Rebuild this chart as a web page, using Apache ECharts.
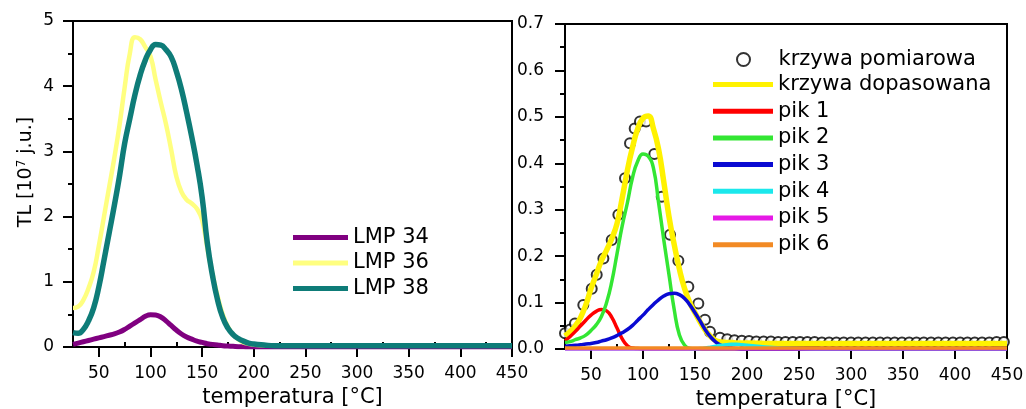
<!DOCTYPE html>
<html><head><meta charset="utf-8">
<script src="https://cdn.jsdelivr.net/npm/echarts@6/dist/echarts.min.js"></script>
<style>html,body{margin:0;padding:0;background:#fff}#c{width:1026px;height:409px}</style>
</head><body><div id="c"></div><script>
// ---- left panel data ----
const tempLeft = [25,30,35,40,45,50,55,60,65,70,75,80,85,90,95,100,105,110,115,120,125,130,135,140,145,150,155,160,165,170,175,180,185,190,195,200,210,220,250,300,350,400,450];
const lmp34 = [0.04,0.06,0.08,0.10,0.12,0.14,0.16,0.18,0.20,0.23,0.27,0.32,0.37,0.42,0.47,0.495,0.49,0.46,0.40,0.33,0.26,0.20,0.155,0.12,0.09,0.07,0.05,0.04,0.03,0.02,0.015,0.01,0.005,0.003,0,0,0,0,0,0,0,0,0];
const lmp36 = [0.60,0.62,0.72,0.90,1.15,1.55,2.00,2.45,2.90,3.40,3.98,4.50,4.75,4.72,4.60,4.46,4.10,3.75,3.42,3.03,2.62,2.38,2.26,2.20,2.12,1.95,1.52,1.12,0.78,0.50,0.31,0.19,0.12,0.07,0.05,0.035,0.025,0.02,0.02,0.02,0.02,0.02,0.02];
const lmp38 = [0.22,0.21,0.27,0.40,0.60,0.92,1.33,1.75,2.17,2.62,3.12,3.50,3.87,4.17,4.40,4.56,4.64,4.63,4.56,4.45,4.23,3.95,3.60,3.22,2.80,2.30,1.60,1.10,0.72,0.45,0.29,0.19,0.13,0.09,0.06,0.045,0.03,0.02,0.02,0.02,0.02,0.02,0.02];

// ---- right panel data ----
const tempRight = [25,30,35,40,45,50,55,60,65,70,75,80,85,90,95,100,105,110,115,120,125,130,135,140,145,150,155,160,165,170,175,180,185,190,195,200,225,250,275,300,325,350,375,400,425,450];
const fitCurve = [0.028,0.038,0.05,0.068,0.095,0.13,0.16,0.19,0.213,0.238,0.27,0.325,0.385,0.435,0.475,0.497,0.502,0.475,0.43,0.36,0.285,0.225,0.172,0.13,0.10,0.078,0.058,0.04,0.027,0.018,0.015,0.014,0.014,0.013,0.013,0.013,0.012,0.012,0.012,0.012,0.012,0.012,0.012,0.012,0.012,0.012];
const pik1 = [0.018,0.027,0.038,0.05,0.062,0.073,0.081,0.085,0.082,0.068,0.045,0.022,0.007,0.002,0.001,0,0,0,0,0,0,0,0,0,0,0,0,0,0,0,0,0,0,0,0,0,0,0,0,0,0,0,0,0,0,0];
const pik2 = [0.014,0.016,0.02,0.024,0.03,0.04,0.052,0.07,0.10,0.145,0.205,0.265,0.315,0.37,0.405,0.42,0.415,0.39,0.315,0.235,0.16,0.085,0.03,0.008,0.001,0,0,0,0,0,0,0,0,0,0,0,0,0,0,0,0,0,0,0,0,0];
const pik3 = [0.006,0.007,0.008,0.009,0.011,0.012,0.014,0.017,0.02,0.024,0.029,0.035,0.042,0.051,0.062,0.073,0.085,0.096,0.106,0.114,0.119,0.12,0.117,0.109,0.095,0.078,0.06,0.041,0.026,0.015,0.008,0.004,0.002,0.001,0,0,0,0,0,0,0,0,0,0,0,0];
const pik4 = [0,0,0,0,0,0,0,0,0,0,0,0,0,0,0,0,0,0,0,0,0,0,0,0,0,0,0.001,0.002,0.004,0.006,0.008,0.009,0.01,0.01,0.009,0.008,0.003,0.001,0,0,0,0,0,0,0,0];
const pik5 = [0,0,0,0,0,0,0,0,0,0,0,0,0,0,0,0,0,0,0,0,0,0,0,0,0,0,0,0,0,0,0,0,0,0,0,0,0,0,0,0,0,0,0,0,0,0];
const pik6 = [0.002,0.002,0.002,0.002,0.002,0.002,0.002,0.002,0.002,0.002,0.002,0.002,0.002,0.002,0.002,0.002,0.002,0.002,0.002,0.002,0.002,0.002,0.002,0.002,0.002,0.002,0.002,0.002,0.002,0.002,0.002,0.002,0.002,0.002,0.002,0.002,0.002,0.002,0.002,0.002,0.002,0.002,0.002,0.002,0.002,0.002];
const tempMeasured = [25,30,34.6,42.6,50.7,55.5,61.9,69.9,76.3,82.7,87.5,92,97.1,103,110.9,118,126,134,143.6,153.2,159.6,164.4,174,181,188,195,202,209,216,223,230,237,244,251,258,265,272,279,286,293,300,307,314,321,328,335,342,349,356,363,370,377,384,391,398,405,412,419,426,433,440,447];
const measured = [0.034,0.042,0.055,0.095,0.13,0.16,0.195,0.235,0.289,0.368,0.443,0.475,0.49,0.49,0.42,0.328,0.246,0.19,0.134,0.098,0.063,0.037,0.024,0.021,0.019,0.018,0.017,0.016,0.016,0.016,0.015,0.015,0.015,0.015,0.015,0.015,0.014,0.014,0.014,0.014,0.014,0.014,0.014,0.014,0.014,0.014,0.014,0.014,0.014,0.014,0.014,0.014,0.014,0.014,0.014,0.014,0.014,0.014,0.014,0.014,0.015,0.015];

// ---- axis ticks / labels ----
const xMajorTicks = [50,100,150,200,250,300,350,400,450];
const xMinorTicks = [25,75,125,175,225,275,325,375,425];
const leftLegend = ['LMP 34','LMP 36','LMP 38'];
const rightLegendPoints = ['krzywa pomiarowa'];
const rightLegendLines = ['krzywa dopasowana','pik 1','pik 2','pik 3','pik 4','pik 5','pik 6'];

const FONT = 'DejaVu Sans';
const zip = (t, v) => t.map((x, i) => [x, v[i]]);

function mainX(grid, name) {
  return {
    type: 'value', gridIndex: grid, min: 25, max: 450,
    name: name, nameLocation: 'middle', nameGap: 32,
    nameTextStyle: { fontFamily: FONT, fontSize: 21, color: '#000' },
    axisLine: { show: true, onZero: false, lineStyle: { color: '#000', width: 2 } },
    axisTick: { show: true, customValues: xMajorTicks, length: 10, lineStyle: { color: '#000', width: 2 } },
    axisLabel: { show: true, customValues: xMajorTicks, margin: 18, fontFamily: FONT, fontSize: 17, color: '#000' },
    splitLine: { show: false }
  };
}
function minorX(grid) {
  return {
    type: 'value', gridIndex: grid, min: 25, max: 450,
    axisLine: { show: false },
    axisTick: { show: true, customValues: xMinorTicks, length: 5, lineStyle: { color: '#000', width: 2 } },
    axisLabel: { show: false },
    splitLine: { show: false }
  };
}
function yAxis(grid, max, interval, fmt, margin, extra) {
  return Object.assign({
    type: 'value', gridIndex: grid, min: 0, max: max, interval: interval,
    axisLine: { show: true, onZero: false, lineStyle: { color: '#000', width: 2 } },
    axisTick: { show: true, length: 10, lineStyle: { color: '#000', width: 2 } },
    minorTick: { show: true, splitNumber: 2, length: 5, lineStyle: { color: '#000', width: 2 } },
    axisLabel: { margin: margin, fontFamily: FONT, fontSize: 17, color: '#000', formatter: fmt },
    splitLine: { show: false }, minorSplitLine: { show: false }
  }, extra || {});
}
function line(name, x, y, xi, yi, color, width) {
  return {
    name: name, type: 'line', xAxisIndex: xi, yAxisIndex: yi,
    data: zip(x, y), showSymbol: false, symbol: 'none', smooth: 0.5,
    color: color, lineStyle: { color: color, width: width }, animation: false
  };
}

const chart = echarts.init(document.getElementById('c'), null, { renderer: 'canvas' });
chart.setOption({
  animation: false,
  backgroundColor: '#fff',
  grid: [
    { left: 73, top: 21, width: 439, height: 326, outerBoundsMode: 'none', containLabel: false,
      show: true, borderColor: '#000', borderWidth: 2, backgroundColor: 'transparent' },
    { left: 565, top: 24, width: 442, height: 325, outerBoundsMode: 'none', containLabel: false,
      show: true, borderColor: '#000', borderWidth: 2, backgroundColor: 'transparent' }
  ],
  xAxis: [mainX(0, 'temperatura [°C]'), minorX(0), mainX(1, 'temperatura [°C]'), minorX(1)],
  yAxis: [
    yAxis(0, 5, 1, v => String(v), 19, {
      name: '{a|TL [10}{s|7}{a| j.u.]}', nameLocation: 'middle', nameGap: 37,
      nameTextStyle: { fontFamily: FONT, fontSize: 19, color: '#000', padding: [0, 0, 0, 24],
        rich: { a: { fontFamily: FONT, fontSize: 19, color: '#000' }, s: { fontFamily: FONT, fontSize: 12, color: '#000', verticalAlign: 'top', padding: [0, 0, 8, 0] } } }
    }),
    yAxis(1, 0.7, 0.1, v => v.toFixed(1), 21)
  ],
  legend: [
    { data: leftLegend, orient: 'vertical', left: 293, top: 227, padding: 0, itemGap: 4.5,
      itemWidth: 55, itemHeight: 5, icon: 'rect', textStyle: { fontFamily: FONT, fontSize: 21, color: '#000' }, selectedMode: false },
    { data: rightLegendPoints, orient: 'vertical', left: 736, top: 49, padding: 0,
      itemWidth: 60, itemHeight: 13, icon: 'emptyCircle', itemStyle: { borderWidth: 1.5 },
      textStyle: { fontFamily: FONT, fontSize: 21, color: '#000' }, selectedMode: false },
    { data: rightLegendLines, orient: 'vertical', left: 713, top: 74, padding: 0, itemGap: 5.7,
      itemWidth: 60, itemHeight: 5, icon: 'rect', textStyle: { fontFamily: FONT, fontSize: 21, color: '#000' }, selectedMode: false }
  ],
  series: [
    line('LMP 34', tempLeft, lmp34, 0, 0, '#800080', 5),
    line('LMP 36', tempLeft, lmp36, 0, 0, '#FFFF80', 4.5),
    line('LMP 38', tempLeft, lmp38, 0, 0, '#0E7C78', 5.5),
    { name: 'krzywa pomiarowa', type: 'scatter', xAxisIndex: 2, yAxisIndex: 1, data: zip(tempMeasured, measured),
      symbol: 'emptyCircle', symbolSize: 10, color: '#000', itemStyle: { color: '#000', borderColor: '#000', borderWidth: 1.6 }, animation: false },
    line('krzywa dopasowana', tempRight, fitCurve, 2, 1, '#FFF200', 5.5),
    line('pik 1', tempRight, pik1, 2, 1, '#FF0000', 3.5),
    line('pik 2', tempRight, pik2, 2, 1, '#33E633', 3.5),
    line('pik 3', tempRight, pik3, 2, 1, '#0A0AD2', 3.5),
    line('pik 4', tempRight, pik4, 2, 1, '#1BE8EC', 3.5),
    line('pik 5', tempRight, pik5, 2, 1, '#E619E6', 3.5),
    line('pik 6', tempRight, pik6, 2, 1, '#F28A24', 3.5)
  ]
});
</script></body></html>
